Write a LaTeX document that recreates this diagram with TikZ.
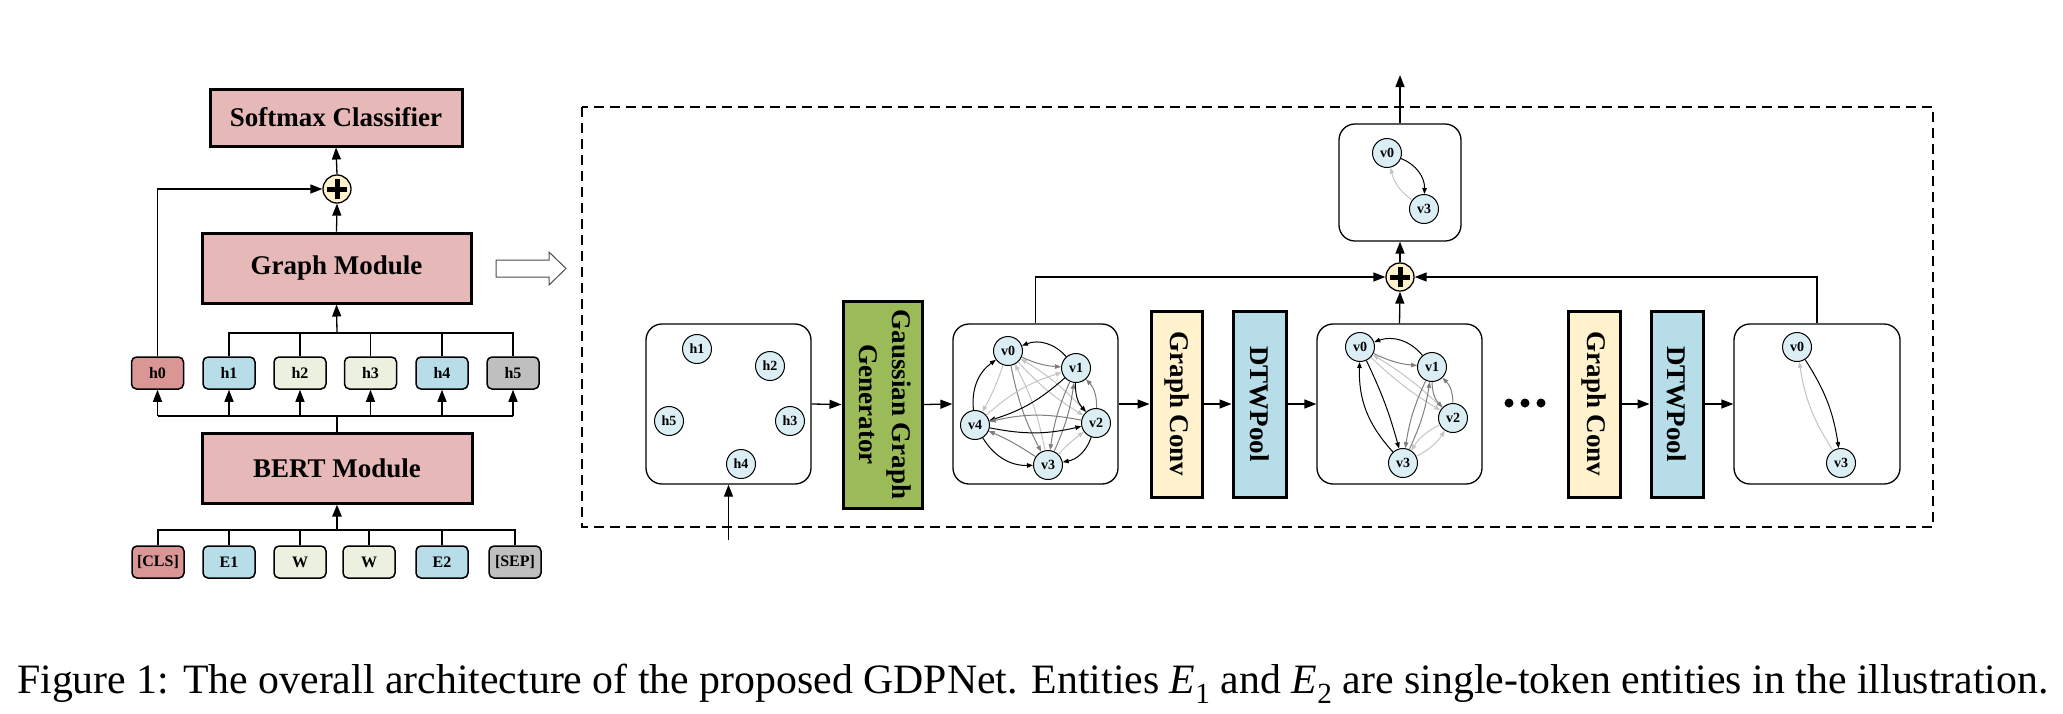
\documentclass[tikz,border=0pt]{standalone}
\usepackage{fontspec}
\setmainfont{Liberation Serif}
\usetikzlibrary{arrows.meta}
\definecolor{pinkbox}{HTML}{E6B9B8}
\definecolor{redtok}{HTML}{DA9694}
\definecolor{bluetok}{HTML}{B7DEE8}
\definecolor{greentok}{HTML}{EBF1DE}
\definecolor{graytok}{HTML}{BFBFBF}
\definecolor{vfill}{HTML}{DAEEF3}
\definecolor{plusc}{HTML}{FFF2CC}
\definecolor{gaussc}{HTML}{9BBB59}
\definecolor{convc}{HTML}{FFF2CC}
\definecolor{dtwc}{HTML}{B7DEE8}
\definecolor{edgedark}{HTML}{7F7F7F}
\definecolor{edgelight}{HTML}{C4C4C4}
\begin{document}
\begin{tikzpicture}[x=1pt,y=-1pt,
  bigbox/.style={draw, line width=3pt, fill=pinkbox, inner sep=0pt, font=\fontsize{27}{30}\selectfont\bfseries},
  tok/.style={draw, rounded corners=5pt, line width=1.5pt, minimum width=52pt, minimum height=32pt, inner sep=0pt, font=\fontsize{16}{16}\selectfont\bfseries},
  vbox/.style={draw, line width=3pt, inner sep=0pt, minimum height=186pt, font=\fontsize{27}{33}\selectfont\bfseries},
  gbox/.style={draw, rounded corners=16pt, line width=1.3pt, inner sep=0pt},
  vtx/.style={circle, draw, fill=vfill, minimum size=29pt, inner sep=0pt, line width=1pt, font=\fontsize{14}{14}\selectfont\bfseries},
  plusnode/.style={circle, draw, fill=plusc, minimum size=28pt, inner sep=0pt, line width=1.3pt,
    path picture={\draw[line width=5pt] ([xshift=-10pt]path picture bounding box.center) -- ([xshift=10pt]path picture bounding box.center);
                  \draw[line width=5pt] ([yshift=-10pt]path picture bounding box.center) -- ([yshift=10pt]path picture bounding box.center);}},
  arr/.style={-{Triangle[length=12pt,width=9pt]}, line width=1.3pt},
  ln/.style={line width=1.3pt},
  ge/.style={-{Triangle[length=6pt,width=4.5pt]}, line width=1pt},
  gk/.style={ge, draw=black},
  gd/.style={ge, draw=edgedark},
  gl/.style={ge, draw=edgelight}
]
\useasboundingbox (0,0) rectangle (2063,713);

% ---------------- left column ----------------
\node[bigbox, minimum width=252pt, minimum height=57pt] (softmax) at (336,117.5) {Softmax Classifier};
\node[plusnode] (plusA) at (337,189) {};
\node[bigbox, minimum width=269pt, minimum height=70pt] (graphmod) at (336.5,268) {Graph Module};
\node[bigbox, minimum width=270pt, minimum height=70pt] (bert) at (337,468) {BERT Module};

\node[tok, fill=redtok]   (h0) at (157.5,373) {h0};
\node[tok, fill=bluetok]  (h1) at (229,373) {h1};
\node[tok, fill=greentok] (h2) at (300,373) {h2};
\node[tok, fill=greentok] (h3) at (370.5,373) {h3};
\node[tok, fill=bluetok]  (h4) at (442,373) {h4};
\node[tok, fill=graytok]  (h5) at (513,373) {h5};

\node[tok, fill=redtok]   (t0) at (158,562) {[CLS]};
\node[tok, fill=bluetok]  (t1) at (229,562) {E1};
\node[tok, fill=greentok] (t2) at (300,562) {W};
\node[tok, fill=greentok] (t3) at (369,562) {W};
\node[tok, fill=bluetok]  (t4) at (442,562) {E2};
\node[tok, fill=graytok]  (t5) at (515,562) {[SEP]};

\coordinate (busT) at (337,530);
\coordinate (busB) at (337,416);
\coordinate (busG) at (337,333);

% tokens -> BERT
\draw[ln] (t0.north) -- (t0.north |- busT) -- (t5.north |- busT) -- (t5.north);
\foreach \i in {1,2,3,4} { \draw[ln] (t\i.north) -- (t\i.north |- busT); }
\draw[-{Triangle[length=12pt,width=9pt]}, line width=2.5pt] (busT) -- (bert.south);

% BERT -> h
\draw[line width=2.5pt] (bert.north) -- (busB);
\draw[ln] (h0.south |- busB) -- (h5.south |- busB);
\foreach \i in {0,...,5} { \draw[arr] (h\i.south |- busB) -- (h\i.south); }

% h1..h5 -> Graph Module
\draw[ln] (h1.north) -- (h1.north |- busG) -- (h5.north |- busG) -- (h5.north);
\foreach \i in {2,3,4} { \draw[ln] (h\i.north) -- (h\i.north |- busG); }
\draw[arr] (busG) -- (graphmod.south);

\draw[arr] (graphmod.north) -- (plusA.south);
\draw[arr] (plusA.north) -- (softmax.south);
\draw[arr] (h0.north) |- (plusA.west);

% hollow arrow
\draw[line width=1pt, draw=black!70, fill=white] (496,260) -- (549,260) -- (549,252) -- (566,268.5) -- (549,285) -- (549,277) -- (496,277) -- cycle;

% ---------------- right panel ----------------
\draw[line width=1.5pt, dash pattern=on 10pt off 6pt] (582,107) rectangle (1933,527);

\node[gbox, minimum width=165pt, minimum height=160pt] (gbox0) at (728.5,404) {};
\node[gbox, minimum width=165pt, minimum height=160pt] (gbox1) at (1035.5,404) {};
\node[gbox, minimum width=165pt, minimum height=160pt] (gbox2) at (1399.5,404) {};
\node[gbox, minimum width=166pt, minimum height=160pt] (gbox3) at (1817,404) {};
\node[gbox, minimum width=122pt, minimum height=117pt] (topbox) at (1400,182.5) {};

\node[vbox, fill=gaussc, minimum width=79pt, minimum height=207pt] (gauss) at (882.5,404.5)
  {\rotatebox{-90}{\begin{tabular}{@{}c@{}}Gaussian Graph\\Generator\end{tabular}}};
\node[vbox, fill=convc, minimum width=51pt] (gc1) at (1176.5,404) {\rotatebox{-90}{Graph Conv}};
\node[vbox, fill=dtwc, minimum width=53pt] (dtw1) at (1259.5,404) {\rotatebox{-90}{DTWPool}};
\node[vbox, fill=convc, minimum width=52pt] (gc2) at (1594,404) {\rotatebox{-90}{Graph Conv}};
\node[vbox, fill=dtwc, minimum width=52pt] (dtw2) at (1677,404) {\rotatebox{-90}{DTWPool}};

\node[plusnode] (plusB) at (1400,277) {};

\foreach \x in {1509,1525,1541} { \fill (\x,403) circle (4.5pt); }

% h graph nodes
\node[vtx] (gh1) at (697,349) {h1};
\node[vtx] (gh2) at (770,366) {h2};
\node[vtx] (gh5) at (669,421) {h5};
\node[vtx] (gh3) at (790,421) {h3};
\node[vtx] (gh4) at (741,464) {h4};

% connectors
\coordinate (inH) at (728.5,540);
\coordinate (outTop) at (1400,75);
\draw[arr] (inH) -- (gbox0.south);
\draw[arr] (gbox0.east) -- (gauss.west);
\draw[arr] (gauss.east) -- (gbox1.west);
\draw[arr] (gbox1.east) -- (gc1.west);
\draw[arr] (gc1.east) -- (dtw1.west);
\draw[arr] (dtw1.east) -- (gbox2.west);
\draw[arr] (gc2.east) -- (dtw2.west);
\draw[arr] (dtw2.east) -- (gbox3.west);
\draw[arr] (gbox1.north) |- (plusB.west);
\draw[arr] (gbox3.north) |- (plusB.east);
\draw[arr] (gbox2.north) -- (plusB.south);
\draw[arr] (plusB.north) -- (topbox.south);
\draw[arr] (topbox.north) -- (outTop);

% graph 1
\node[vtx] (a0) at (1008,351) {v0};
\node[vtx] (a1) at (1076,368) {v1};
\node[vtx] (a2) at (1096,423) {v2};
\node[vtx] (a3) at (1048,465) {v3};
\node[vtx] (a4) at (975,425) {v4};
\draw[gl] (a3) to[bend right=8] (a0);
\draw[gd] (a0) to[bend right=8] (a3);
\draw[gl] (a2) to[bend right=8] (a0);
\draw[gl] (a0) to[bend right=8] (a2);
\draw[gd] (a3) to[bend right=8] (a1);
\draw[gd] (a1) to[bend right=8] (a3);
\draw[gl] (a4) to[bend left=12] (a1);
\draw[gk] (a1) to[bend left=12] (a4);
\draw[gk] (a4) to[bend right=12] (a2);
\draw[gd] (a2) to[bend right=12] (a4);
\draw[gk] (a1) to[bend right=35] (a0);
\draw[gd] (a0) to[bend right=10] (a1);
\draw[gk] (a1) to[bend right=22] (a2);
\draw[gd] (a2) to[bend right=22] (a1);
\draw[gk] (a2) to[bend left=30] (a3);
\draw[gl] (a3) to[bend left=5] (a2);
\draw[gk] (a4) to[bend right=30] (a3);
\draw[gd] (a3) to[bend right=5] (a4);
\draw[gk] (a4) to[bend left=30] (a0);
\draw[gl] (a0) to[bend left=5] (a4);

% graph 2
\node[vtx] (b0) at (1360,347) {v0};
\node[vtx] (b1) at (1432,367) {v1};
\node[vtx] (b2) at (1453,418) {v2};
\node[vtx] (b3) at (1403,463) {v3};
\draw[gk] (b1) to[bend right=35] (b0);
\draw[gd] (b0) to[bend right=10] (b1);
\draw[gl] (b0) to[bend right=6] (b2);
\draw[gl] (b2) to[bend right=6] (b0);
\draw[gd] (b1) to[bend right=22] (b2);
\draw[gd] (b2) to[bend right=22] (b1);
\draw[gk] (b3) to[bend left=22] (b0);
\draw[gk] (b0) to[bend left=5] (b3);
\draw[gd] (b3) to[bend right=8] (b1);
\draw[gd] (b1) to[bend right=8] (b3);
\draw[gl] (b2) to[bend right=15] (b3);
\draw[gl] (b3) to[bend right=15] (b2);

% graph 3
\node[vtx] (c0) at (1797,347) {v0};
\node[vtx] (c3) at (1841,463) {v3};
\draw[gk] (c0) to[bend left=12] (c3);
\draw[gl] (c3) to[bend left=12] (c0);

% top graph
\node[vtx] (d0) at (1387,153) {v0};
\node[vtx] (d3) at (1424,209) {v3};
\draw[gk] (d0) to[bend left=35] (d3);
\draw[gl] (d3) to[bend left=20] (d0);

% caption
\node[anchor=base west, inner sep=0pt, font=\fontsize{41.8}{46}\selectfont] (caption) at (17,693)
  {Figure 1: The overall architecture of the proposed GDPNet. Entities \textit{E}\textsubscript{1} and \textit{E}\textsubscript{2} are single-token entities in the illustration.};
\end{tikzpicture}
\end{document}
